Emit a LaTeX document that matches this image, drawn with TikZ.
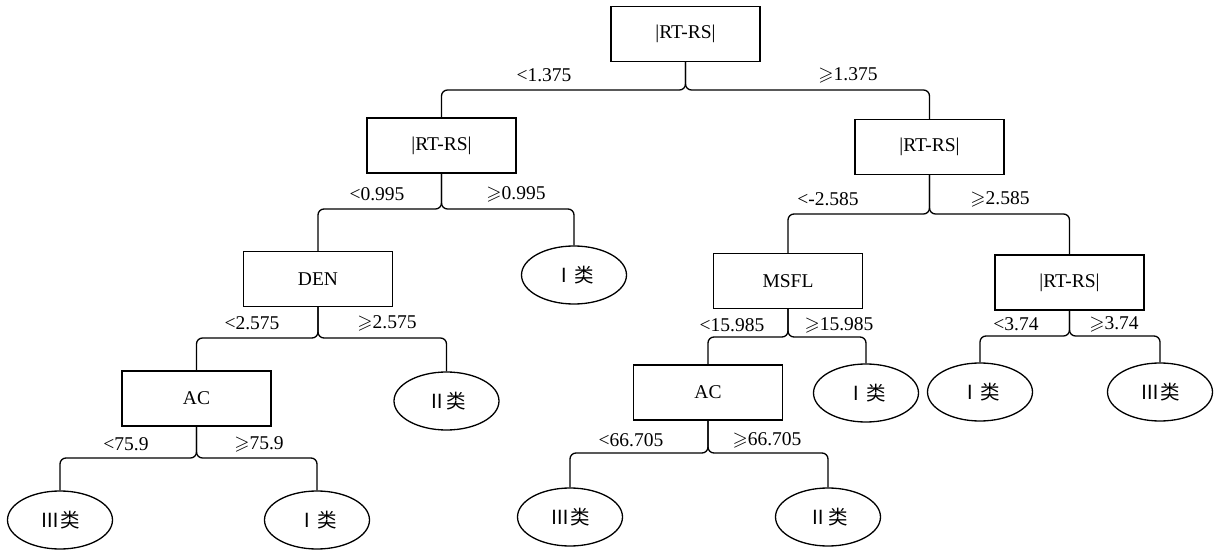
\documentclass[tikz,border=0pt]{standalone}
\usepackage{amssymb}
\usepackage{fontspec}
\setmainfont{Liberation Serif}
\newfontfamily\cjk{Noto Sans CJK SC}
\usetikzlibrary{shapes.geometric}
\begin{document}
\begin{tikzpicture}[x=1pt,y=-1pt,
  every node/.style={font=\fontsize{19.5}{22}\selectfont},
  box/.style={draw,line width=1.3pt,rectangle,minimum width=149pt,minimum height=55pt,inner sep=0pt},
  leaf/.style={draw,line width=1.3pt,ellipse,minimum width=105pt,minimum height=58pt,inner sep=0pt,font=\cjk\fontsize{19.5}{22}\selectfont},
  lab/.style={inner sep=0pt},
  conn/.style={draw,line width=1.3pt,rounded corners=6pt}]
\useasboundingbox (0,0) rectangle (1226,553);
% nodes
\node[box] (root) at (685.5,34) {|RT-RS|};
\node[box] (L1) at (441.5,145.5) {|RT-RS|};
\node[box] (R1) at (929.5,147) {|RT-RS|};
\node[box] (DEN) at (318,279) {DEN};
\node[leaf] (I1) at (574,275) {Ⅰ类};
\node[box] (MSFL) at (788,281) {MSFL};
\node[box] (R2) at (1069.5,282.5) {|RT-RS|};
\node[box] (AC1) at (196.5,398.5) {AC};
\node[leaf] (II1) at (446.5,401) {Ⅱ类};
\node[box] (AC2) at (708,392.5) {AC};
\node[leaf] (I2) at (866,393) {Ⅰ类};
\node[leaf] (I3) at (980,392) {Ⅰ类};
\node[leaf] (III1) at (1160,392) {Ⅲ类};
\node[leaf] (III2) at (60,520) {Ⅲ类};
\node[leaf] (I4) at (317,520) {Ⅰ类};
\node[leaf] (III3) at (570,517) {Ⅲ类};
\node[leaf] (II2) at (828,517) {Ⅱ类};
% connectors
\draw[conn] (root.south) -- (root.south |- 0,90) -| (L1.north);
\draw[conn] (root.south) -- (root.south |- 0,90) -| (R1.north);
\draw[conn] (L1.south) -- (L1.south |- 0,209) -| (DEN.north);
\draw[conn] (L1.south) -- (L1.south |- 0,209) -| (I1.north);
\draw[conn] (R1.south) -- (R1.south |- 0,214) -| (MSFL.north);
\draw[conn] (R1.south) -- (R1.south |- 0,214) -| (R2.north);
\draw[conn] (DEN.south) -- (DEN.south |- 0,338) -| (AC1.north);
\draw[conn] (DEN.south) -- (DEN.south |- 0,338) -| (II1.north);
\draw[conn] (MSFL.south) -- (MSFL.south |- 0,337) -| (AC2.north);
\draw[conn] (MSFL.south) -- (MSFL.south |- 0,337) -| (I2.north);
\draw[conn] (R2.south) -- (R2.south |- 0,336) -| (I3.north);
\draw[conn] (R2.south) -- (R2.south |- 0,336) -| (III1.north);
\draw[conn] (AC1.south) -- (AC1.south |- 0,458) -| (III2.north);
\draw[conn] (AC1.south) -- (AC1.south |- 0,458) -| (I4.north);
\draw[conn] (AC2.south) -- (AC2.south |- 0,453) -| (III3.north);
\draw[conn] (AC2.south) -- (AC2.south |- 0,453) -| (II2.north);
% labels
\node[lab] (t1) at (544,75) {<1.375};
\node[lab] (t2) at (848,75) {$\geqslant$1.375};
\node[lab] (t3) at (377,194) {<0.995};
\node[lab] (t4) at (516,194) {$\geqslant$0.995};
\node[lab] (t5) at (828,199) {<-2.585};
\node[lab] (t6) at (1000,199) {$\geqslant$2.585};
\node[lab] (t7) at (252,323) {<2.575};
\node[lab] (t8) at (387,323) {$\geqslant$2.575};
\node[lab] (t9) at (732,325) {<15.985};
\node[lab] (t10) at (839,325) {$\geqslant$15.985};
\node[lab] (t11) at (1016,324) {<3.74};
\node[lab] (t12) at (1114,324) {$\geqslant$3.74};
\node[lab] (t13) at (126,444) {<75.9};
\node[lab] (t14) at (259,444) {$\geqslant$75.9};
\node[lab] (t15) at (631,440) {<66.705};
\node[lab] (t16) at (767,440) {$\geqslant$66.705};
\end{tikzpicture}
\end{document}
